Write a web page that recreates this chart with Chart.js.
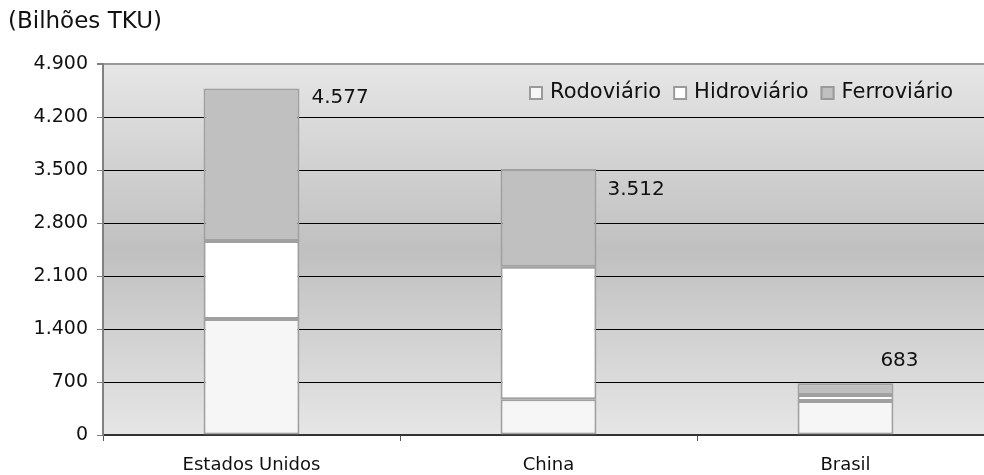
<!DOCTYPE html>
<html>
<head>
<meta charset="utf-8">
<script src="https://cdn.jsdelivr.net/npm/chart.js"></script>
<style>
  html, body { margin: 0; padding: 0; background: #fff; overflow: hidden; }
  #wrap { position: absolute; left: 0; top: 0; width: 1000px; height: 475px; }
</style>
</head>
<body>
<div id="wrap"><canvas id="chart" width="1000" height="475"></canvas></div>
<script>
// Data
const categories = ["Estados Unidos", "China", "Brasil"];
const rodoviario = [1532, 471, 449];
const hidroviario = [1030, 1752, 79];
const ferroviario = [2015, 1289, 155];
const totals = [4577, 3512, 683];
const yMax = 4900;
const yStep = 700;
const unitLabel = "(Bilhões TKU)";

const FONT = "'DejaVu Sans', Verdana, sans-serif";

// 4900 -> "4.900"
function fmt(v) {
    return String(v).replace(/\B(?=(\d{3})+(?!\d))/g, ".");
}

// Grey band behind the bars, darkest in the middle
const plotBackground = {
    id: "plotBackground",
    beforeDraw(chart) {
        const { ctx, chartArea: a } = chart;
        const g = ctx.createLinearGradient(0, a.top, 0, a.bottom);
        g.addColorStop(0, "#e6e6e6");
        g.addColorStop(0.5, "#c0c0c0");
        g.addColorStop(1, "#e6e6e6");
        ctx.save();
        ctx.fillStyle = g;
        ctx.fillRect(a.left, a.top, a.right - a.left, a.bottom - a.top);
        ctx.restore();
    }
};

// Unit title in the top left corner
const unitTitle = {
    id: "unitTitle",
    afterDraw(chart) {
        const ctx = chart.ctx;
        ctx.save();
        ctx.font = "23px " + FONT;
        ctx.fillStyle = "#111";
        ctx.textBaseline = "middle";
        ctx.textAlign = "left";
        ctx.fillText(unitLabel, 8, 22);
        ctx.restore();
    }
};

// Legend drawn inside the plot, top right
const innerLegend = {
    id: "innerLegend",
    afterDraw(chart) {
        const ctx = chart.ctx;
        let x = 529;
        const y = 93;
        ctx.save();
        ctx.font = "21px " + FONT;
        ctx.textBaseline = "middle";
        chart.data.datasets.forEach(ds => {
            ctx.fillStyle = ds.backgroundColor;
            ctx.fillRect(x, y - 7, 14, 14);
            ctx.strokeStyle = "#9a9a9a";
            ctx.lineWidth = 2;
            ctx.strokeRect(x + 1, y - 6, 12, 12);
            ctx.fillStyle = "#111";
            ctx.fillText(ds.label, x + 21, y);
            x += 21 + ctx.measureText(ds.label).width + 12;
        });
        ctx.restore();
    }
};

// Totals next to each stacked bar
const totalLabels = {
    id: "totalLabels",
    afterDatasetsDraw(chart) {
        const ctx = chart.ctx;
        const last = chart.getDatasetMeta(chart.data.datasets.length - 1);
        // dx from bar right edge, dy from bar top, text alignment
        const place = [
            { dx: 12, dy: 9, align: "left" },
            { dx: 11, dy: 21, align: "left" },
            { dx: 6, dy: -22, align: "center" }
        ];
        ctx.save();
        ctx.font = "20px " + FONT;
        ctx.fillStyle = "#111";
        ctx.textBaseline = "middle";
        last.data.forEach((bar, i) => {
            const p = place[i];
            ctx.textAlign = p.align;
            ctx.fillText(fmt(totals[i]), bar.x + bar.width / 2 + p.dx, bar.y + p.dy);
        });
        ctx.restore();
    }
};

const barStyle = { borderColor: "#a0a0a0", borderWidth: 2, borderSkipped: false,
                   barPercentage: 0.323, categoryPercentage: 1 };

new Chart(document.getElementById("chart"), {
    type: "bar",
    data: {
        labels: categories,
        datasets: [
            { label: "Rodoviário", data: rodoviario, backgroundColor: "#f6f6f6", ...barStyle },
            { label: "Hidroviário", data: hidroviario, backgroundColor: "#ffffff", ...barStyle },
            { label: "Ferroviário", data: ferroviario, backgroundColor: "#c0c0c0", ...barStyle }
        ]
    },
    options: {
        responsive: false,
        animation: false,
        devicePixelRatio: 1,
        layout: { padding: { top: 64, right: 6, left: 0, bottom: 0 } },
        plugins: {
            legend: { display: false },
            tooltip: { enabled: false },
            title: { display: false }
        },
        scales: {
            x: {
                stacked: true,
                grid: { offset: true, drawOnChartArea: false, tickLength: 6, tickColor: "#555", lineWidth: 1 },
                border: { color: "#333", width: 2 },
                ticks: { color: "#111", font: { family: FONT, size: 18 }, padding: 14 },
                afterFit(scale) { scale.height = 40; }
            },
            y: {
                stacked: true,
                min: 0,
                max: yMax,
                grid: {
                    color: ctx => ctx.tick && ctx.tick.value === yMax ? "#9a9a9a" : "#000",
                    lineWidth: ctx => ctx.tick && ctx.tick.value === yMax ? 2 : 1,
                    tickLength: 6,
                    tickColor: "#808080"
                },
                border: { color: "#808080", width: 2 },
                ticks: {
                    stepSize: yStep,
                    color: "#111",
                    font: { family: FONT, size: 19 },
                    padding: 9,
                    callback: v => fmt(v)
                },
                afterFit(scale) { scale.width = 103; }
            }
        }
    },
    plugins: [plotBackground, unitTitle, innerLegend, totalLabels]
});
</script>
</body>
</html>
